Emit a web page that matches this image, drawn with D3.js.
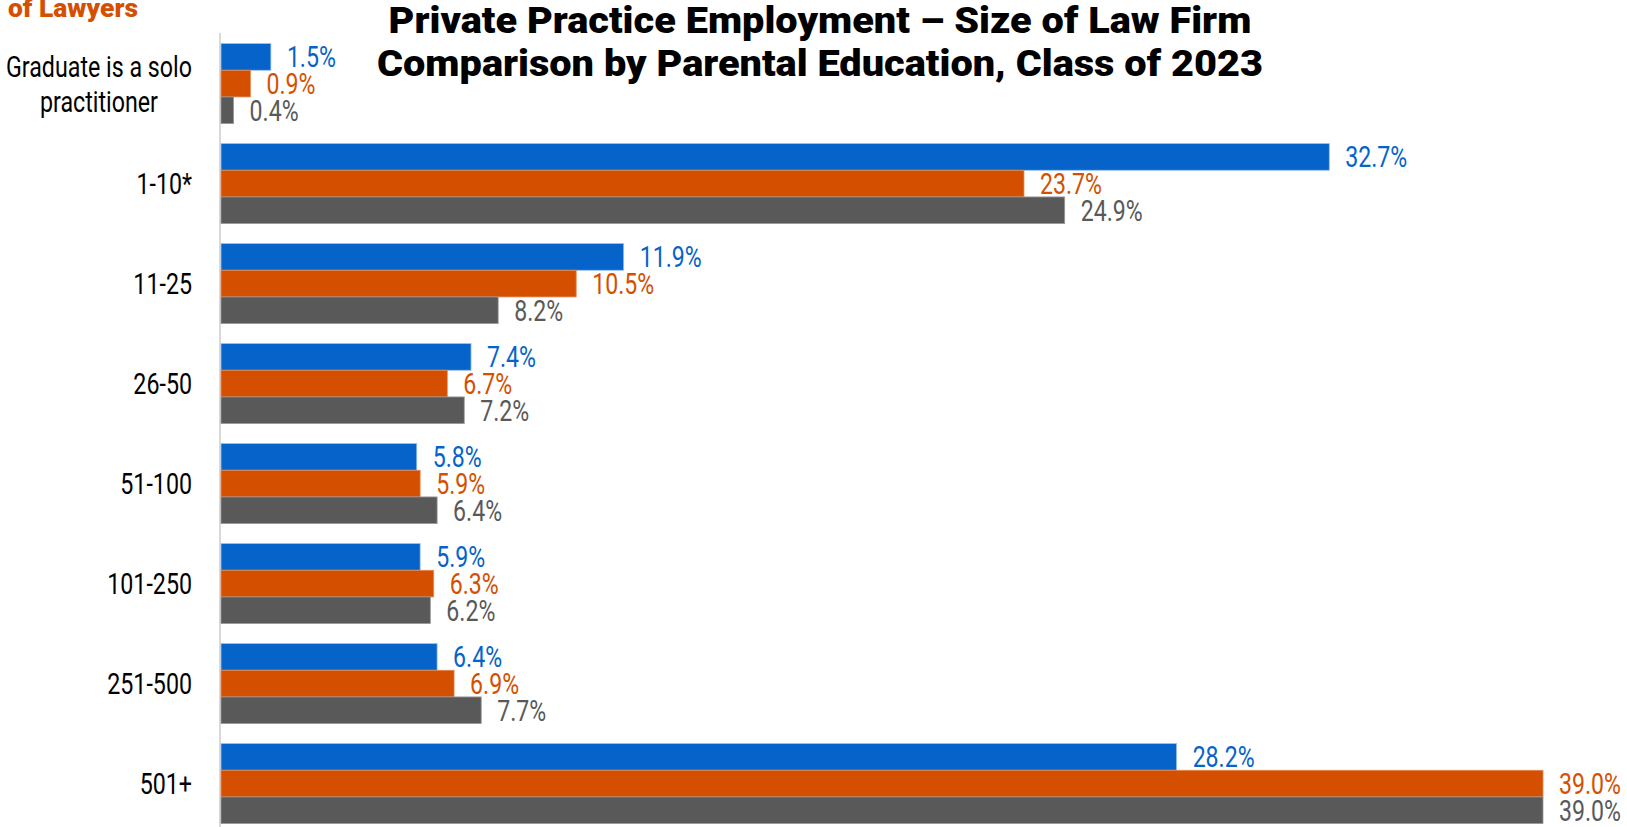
<!DOCTYPE html>
<html lang="en">
<head>
  <meta charset="UTF-8">
  <title>Private Practice Employment – Size of Law Firm</title>
  <style>
    body { margin: 0; background: #fff; }
    text { font-family: Roboto, "Liberation Sans", sans-serif; }
    .title { font-weight: 900; }
  </style>
</head>
<body>
  <svg width="1627" height="827"></svg>
  <script src="https://d3js.org/d3.v7.min.js"></script>
  <script>
    const width = 1627, height = 827;

    const categories = [
      ["Graduate is a solo", "practitioner"],
      ["1-10*"], ["11-25"], ["26-50"], ["51-100"], ["101-250"], ["251-500"], ["501+"]
    ];
    const seriesNames = ["Parent(s) is a lawyer", "Parent(s) has college degree", "No parent with college degree"];
    const seriesA = [1.5, 32.7, 11.9, 7.4, 5.8, 5.9, 6.4, 28.2];
    const seriesB = [0.9, 23.7, 10.5, 6.7, 5.9, 6.3, 6.9, 39.0];
    const seriesC = [0.4, 24.9, 8.2, 7.2, 6.4, 6.2, 7.7, 39.0];
    const titleLines = ["Private Practice Employment – Size of Law Firm",
                        "Comparison by Parental Education, Class of 2023"];

    const colors = ["#0563c9", "#d45000", "#595959"];
    const strokes = ["#9dc0ea", "#e58a55", "#999999"];

    const svg = d3.select("svg");
    const x0 = 220;

    // squeeze/stretch text horizontally by factor f
    function condense(sel, f) {
      sel.each(function() {
        const w = this.getComputedTextLength();
        d3.select(this).attr("textLength", w * f).attr("lengthAdjust", "spacingAndGlyphs");
      });
    }
    // factor that makes the widest node of sel as wide as target
    function fitFactor(sel, target) {
      return target / d3.max(sel.nodes(), n => n.getComputedTextLength());
    }

    const x = d3.scaleLinear().domain([0, 39]).range([x0, 1543]);
    const y = d3.scaleBand()
      .domain(d3.range(categories.length))
      .range([33.6, 833.6])
      .paddingInner(0.2)
      .paddingOuter(0.1);
    const ySub = d3.scaleBand()
      .domain(d3.range(3))
      .range([0, y.bandwidth()]);

    const series = [seriesA, seriesB, seriesC];

    // axis line
    svg.append("line")
      .attr("x1", x0).attr("x2", x0)
      .attr("y1", 33).attr("y2", height)
      .attr("stroke", "#d9d9d9").attr("stroke-width", 2);

    const groups = svg.append("g")
      .selectAll("g")
      .data(categories)
      .join("g")
      .attr("transform", (d, i) => `translate(0,${y(i)})`);

    let valF = null;
    series.forEach((vals, s) => {
      groups.append("rect")
        .attr("x", x0 + 1)
        .attr("y", ySub(s))
        .attr("width", (d, i) => x(vals[i]) - x0 - 1)
        .attr("height", ySub.bandwidth())
        .attr("fill", colors[s])
        .attr("stroke", strokes[s])
        .attr("stroke-width", 0.8);

      const lbl = groups.append("text")
        .attr("x", (d, i) => x(vals[i]) + 16)
        .attr("y", ySub(s) + ySub.bandwidth() / 2)
        .attr("dy", "0.36em")
        .attr("font-size", 29)
        .attr("fill", colors[s])
        .text((d, i) => vals[i].toFixed(1) + "%");
      if (valF === null) valF = fitFactor(lbl.filter((d, i) => i === 1), 62);
      condense(lbl, valF);
    });

    // category labels
    const cat = groups.append("text")
      .attr("font-size", 29)
      .attr("fill", "#000");
    const lh = 35;
    cat.each(function(lines) {
      const top = y.bandwidth() / 2 - (lines.length - 1) * lh / 2;
      d3.select(this).selectAll("tspan")
        .data(lines)
        .join("tspan")
        .attr("y", (d, k) => top + k * lh)
        .attr("dy", "0.36em")
        .text(d => d);
    });
    const catF = fitFactor(cat.selectAll("tspan"), 186);
    cat.each(function(lines) {
      const t = d3.select(this);
      const spans = t.selectAll("tspan");
      const w = d3.max(spans.nodes(), n => n.getComputedTextLength()) * catF;
      condense(spans, catF);
      if (lines.length > 1) {
        t.attr("text-anchor", "middle");
        spans.attr("x", 192 - w / 2);
      } else {
        t.attr("text-anchor", "end");
        spans.attr("x", 192);
      }
    });

    // title
    const title = svg.append("g")
      .selectAll("text")
      .data(titleLines)
      .join("text")
      .attr("class", "title")
      .attr("x", 820)
      .attr("y", (d, i) => 33 + i * 43)
      .attr("text-anchor", "middle")
      .attr("font-size", 36)
      .attr("fill", "#000")
      .text(d => d);
    condense(title, fitFactor(title, 886));

    // cut-off legend heading
    const leg = svg.append("text")
      .attr("class", "title")
      .attr("x", 8)
      .attr("y", 17)
      .attr("font-size", 26)
      .attr("fill", "#d45000")
      .text("of Lawyers");
    condense(leg, fitFactor(leg, 130));
  </script>
</body>
</html>
